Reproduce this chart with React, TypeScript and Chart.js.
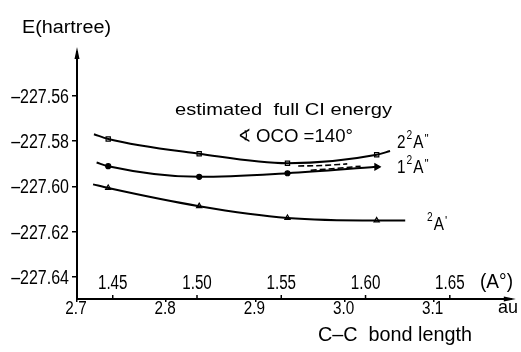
import React, { useEffect, useRef } from "react";
import { Chart, registerables } from "chart.js";

Chart.register(...registerables);

// ---- data ----
const AU_PER_ANGSTROM = 1.8897;
const BOND_AU = [2.735, 2.837, 2.936, 3.036];
const E_2_2A2 = [-227.5791, -227.5856, -227.5898, -227.5861];
const E_1_2A2 = [-227.5911, -227.5958, -227.5942, -227.5914];
const E_2A1 = [-227.6007, -227.6087, -227.6139, -227.615];
// curve ends (x au, E)
const CURVE_2_2A2_START = [2.719, -227.577];
const CURVE_2_2A2_END = [3.051, -227.5844];
const CURVE_1_2A2_START = [2.722, -227.5895];
const CURVE_2A1_START = [2.718, -227.5991];
const CURVE_2A1_END = [3.068, -227.615];
// estimated full CI (dashed)
const FCI_A_X = [2.948, 2.975, 3.003];
const FCI_A_E = [-227.591, -227.5908, -227.5901];
const FCI_B_X = [2.962, 2.99, 3.018];
const FCI_B_E = [-227.5929, -227.5921, -227.5911];

const Y_TICKS = [-227.56, -227.58, -227.6, -227.62, -227.64];
const X_TICKS_AU = [2.7, 2.8, 2.9, 3.0, 3.1];
const X_TICKS_ANGSTROM = [1.45, 1.5, 1.55, 1.6, 1.65];

const FONT = "'Liberation Sans', Arial, sans-serif";

const pts = (xs: number[], ys: number[]) => xs.map((x, i) => ({ x, y: ys[i] }));

// draw text horizontally scaled (condensed) ; align: left/center/right
function drawText(
  ctx: CanvasRenderingContext2D,
  text: string,
  x: number,
  baseline: number,
  size: number,
  opts: { width?: number; scale?: number; align?: "left" | "center" | "right"; font?: string } = {}
) {
  ctx.save();
  ctx.font = `${size}px ${opts.font ?? FONT}`;
  ctx.textAlign = "left";
  ctx.textBaseline = "alphabetic";
  const natural = ctx.measureText(text).width;
  const sx = opts.width ? opts.width / natural : opts.scale ?? 1;
  const w = natural * sx;
  let x0 = x;
  if (opts.align === "center") x0 = x - w / 2;
  else if (opts.align === "right") x0 = x - w;
  ctx.translate(x0, baseline);
  ctx.scale(sx, 1);
  ctx.fillText(text, 0, 0);
  ctx.restore();
  return w;
}

const overlay = {
  id: "overlay",
  afterDraw(chart: any) {
    const ctx = chart.ctx as CanvasRenderingContext2D;
    const xs = chart.scales.x;
    const ys = chart.scales.y;
    const ca = chart.chartArea;
    ctx.save();
    ctx.fillStyle = "#000";
    ctx.strokeStyle = "#000";
    // axes with arrows
    ctx.lineWidth = 2;
    ctx.beginPath();
    ctx.moveTo(ca.left, ca.bottom);
    ctx.lineTo(ca.left, ca.top + 4);
    ctx.moveTo(ca.left, ca.bottom);
    ctx.lineTo(ca.right - 4, ca.bottom);
    ctx.stroke();
    ctx.beginPath();
    ctx.moveTo(ca.left, ca.top);
    ctx.lineTo(ca.left - 2.5, ca.top + 12);
    ctx.lineTo(ca.left + 2.5, ca.top + 12);
    ctx.closePath();
    ctx.fill();
    ctx.beginPath();
    ctx.moveTo(ca.right, ca.bottom);
    ctx.lineTo(ca.right - 12, ca.bottom - 2.5);
    ctx.lineTo(ca.right - 12, ca.bottom + 2.5);
    ctx.closePath();
    ctx.fill();

    // y tick labels (from the library's ticks)
    ys.ticks.forEach((t: any) => {
      const py = ys.getPixelForValue(t.value);
      drawText(ctx, String(t.label), 69, py + 7, 20, { scale: 0.8, align: "right" });
    });
    // x (au) tick labels
    xs.ticks.forEach((t: any) => {
      const px = xs.getPixelForValue(t.value);
      drawText(ctx, String(t.label), px - 1, 314, 18, { scale: 0.85, align: "center" });
    });

    // angstrom ticks
    ctx.lineWidth = 1.5;
    X_TICKS_ANGSTROM.forEach((a) => {
      const px = xs.getPixelForValue(a * AU_PER_ANGSTROM);
      ctx.beginPath();
      ctx.moveTo(px, ca.bottom);
      ctx.lineTo(px, ca.bottom - 4);
      ctx.stroke();
      drawText(ctx, a.toFixed(2), px, 289, 20, { scale: 0.76, align: "center" });
    });
    drawText(ctx, "(A°)", 480, 288, 20, { width: 33 });
    drawText(ctx, "au", 498, 313, 19, { width: 20 });
    drawText(ctx, "C\u2013C  bond length", 318, 341, 20, { width: 154 });
    drawText(ctx, "E(hartree)", 22, 33, 18, { width: 89 });
    drawText(ctx, "estimated  full CI energy", 175, 115, 17, { width: 217 });
    const aw = drawText(ctx, "\u2222", 238, 141.5, 18.5, { width: 13, font: "'DejaVu Sans', sans-serif" });
    drawText(ctx, "OCO =140°", 238 + aw + 5, 141.5, 18.5, { width: 97 });

    const stateLabel = (x: number, baseline: number, pre: string, post: string) => {
      let cx = x;
      if (pre) cx += drawText(ctx, pre, cx, baseline, 18, { scale: 0.85 }) + 1;
      cx += drawText(ctx, "2", cx, baseline - 9, 12, { scale: 0.85 }) + 1;
      cx += drawText(ctx, "A", cx, baseline, 18, { scale: 0.85 }) + 1;
      drawText(ctx, post, cx, baseline - 5, 13, { scale: 0.9 });
    };
    stateLabel(397, 148, "2", "''");
    stateLabel(397, 173, "1", "''");
    stateLabel(427, 230, "", "'");
    ctx.restore();
  },
};

export default function App() {
  const ref = useRef<HTMLCanvasElement>(null);
  useEffect(() => {
    if (!ref.current) return;
    const line = (data: any[], extra: any = {}) => ({
      type: "line",
      data,
      showLine: true,
      borderColor: "#000",
      borderWidth: 2,
      cubicInterpolationMode: "monotone",
      pointRadius: 0,
      ...extra,
    });
    const markers = (data: any[], style: string, fill: string, extra: any = {}) => ({
      type: "scatter",
      data,
      showLine: false,
      pointStyle: style,
      pointRadius: 3,
      pointBackgroundColor: fill,
      pointBorderColor: "#000",
      pointBorderWidth: 1.2,
      ...extra,
    });
    const top = [
      { x: CURVE_2_2A2_START[0], y: CURVE_2_2A2_START[1] },
      ...pts(BOND_AU, E_2_2A2),
      { x: CURVE_2_2A2_END[0], y: CURVE_2_2A2_END[1] },
    ];
    const mid = [{ x: CURVE_1_2A2_START[0], y: CURVE_1_2A2_START[1] }, ...pts(BOND_AU, E_1_2A2)];
    const bot = [
      { x: CURVE_2A1_START[0], y: CURVE_2A1_START[1] },
      ...pts(BOND_AU, E_2A1),
      { x: CURVE_2A1_END[0], y: CURVE_2A1_END[1] },
    ];
    const chart = new Chart(ref.current, {
      type: "scatter",
      data: {
        datasets: [
          line(top),
          line(mid),
          line(bot),
          line(pts(FCI_A_X, FCI_A_E), { borderDash: [6, 3], borderWidth: 1.6 }),
          line(pts(FCI_B_X, FCI_B_E), { borderDash: [6, 3], borderWidth: 1.6 }),
          markers(pts(BOND_AU, E_2_2A2), "rect", "#fff"),
          markers(pts(BOND_AU.slice(0, 3), E_1_2A2.slice(0, 3)), "circle", "#000", { pointRadius: 2.5 }),
          markers(pts(BOND_AU.slice(3), E_1_2A2.slice(3)), "triangle", "#000", { pointRotation: 90, pointRadius: 3.5 }),
          markers(pts(BOND_AU, E_2A1), "triangle", "#fff"),
        ] as any,
      },
      options: {
        responsive: false,
        animation: false,
        devicePixelRatio: 1,
        layout: { padding: { top: 47, left: 0, right: 1, bottom: 0 } },
        plugins: { legend: { display: false }, tooltip: { enabled: false } },
        scales: {
          x: {
            type: "linear",
            min: 2.7,
            max: 3.192,
            afterFit: (s: any) => { s.height = 53; },
            afterBuildTicks: (s: any) => { s.ticks = X_TICKS_AU.map((v) => ({ value: v })); },
            border: { display: false },
            grid: { display: true, drawOnChartArea: false, drawTicks: true, tickLength: 3, color: "#000", lineWidth: 1.5 },
            ticks: {
              display: false,
              autoSkip: false,
              callback: (v: any) => Number(v).toFixed(1),
            },
          },
          y: {
            type: "linear",
            min: -227.6496,
            max: -227.5386,
            afterFit: (s: any) => { s.width = 77; },
            afterBuildTicks: (s: any) => { s.ticks = Y_TICKS.map((v) => ({ value: v })); },
            border: { display: false },
            grid: { display: true, drawOnChartArea: false, drawTicks: true, tickLength: 5, color: "#000", lineWidth: 1.5 },
            ticks: {
              display: false,
              autoSkip: false,
              callback: (v: any) => "\u2013" + Math.abs(Number(v)).toFixed(2),
            },
          },
        },
      },
      plugins: [overlay],
    } as any);
    return () => chart.destroy();
  }, []);
  return (
    <div style={{ position: "absolute", left: 0, top: 0, width: 521, height: 352, background: "#fff" }}>
      <canvas ref={ref} width={521} height={352} />
    </div>
  );
}
